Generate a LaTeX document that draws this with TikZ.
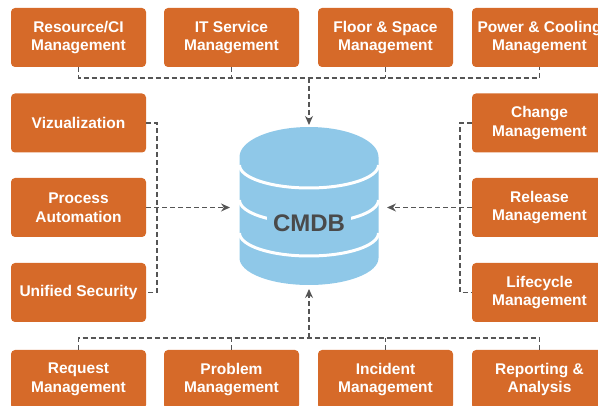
\documentclass[tikz,border=0pt]{standalone}
\usepackage{fontspec}
\setmainfont{Liberation Sans}
\usetikzlibrary{arrows.meta}
\definecolor{boxor}{HTML}{D66A29}
\definecolor{dbblue}{HTML}{8FC8E8}
\definecolor{lncol}{HTML}{555555}
\definecolor{dbtext}{HTML}{4A4A4A}
\begin{document}
\begin{tikzpicture}[x=1pt,y=-1pt,
  mbox/.style={fill=boxor, rounded corners=4pt, minimum width=135pt, minimum height=59pt,
    text=white, font=\bfseries\fontsize{15.5}{18.5}\selectfont, align=center, inner sep=0pt},
  link/.style={draw=lncol, dash pattern=on 5pt off 3pt, line width=1.3pt},
  arr/.style={link, -{Stealth[length=9pt,width=8pt]}},
  band/.style={draw=white, line width=3pt}]
\useasboundingbox (0,0) rectangle (598,406);

% top row
\node[mbox] (t1) at (78.5,37.5) {Resource/CI\\Management};
\node[mbox] (t2) at (231.5,37.5) {IT Service\\Management};
\node[mbox] (t3) at (385.5,37.5) {Floor \& Space\\Management};
\node[mbox] (t4) at (539.5,37.5) {Power \& Cooling\\Management};
% left column
\node[mbox] (l1) at (78.5,123) {Vizualization};
\node[mbox] (l2) at (78.5,207.5) {Process\\Automation};
\node[mbox] (l3) at (78.5,292.5) {Unified Security};
% right column
\node[mbox] (r1) at (539.5,123) {Change\\Management};
\node[mbox] (r2) at (539.5,207.5) {Release\\Management};
\node[mbox] (r3) at (539.5,292.5) {Lifecycle\\Management};
% bottom row
\node[mbox] (b1) at (78.5,379.5) {Request\\Management};
\node[mbox] (b2) at (231.5,379.5) {Problem\\Management};
\node[mbox] (b3) at (385.5,379.5) {Incident\\Management};
\node[mbox] (b4) at (539.5,379.5) {Reporting \&\\Analysis};

% database cylinder
\fill[dbblue] (239.5,157) -- (239.5,258)
  arc[start angle=180,end angle=360,x radius=69.5pt,y radius=27pt]
  -- (378.5,157)
  arc[start angle=0,end angle=180,x radius=69.5pt,y radius=30pt] -- cycle;
\draw[band] (239.5,165) arc[start angle=180,end angle=360,x radius=69.5pt,y radius=23pt];
\draw[band] (239.5,200) arc[start angle=180,end angle=360,x radius=69.5pt,y radius=23pt];
\draw[band] (239.5,233) arc[start angle=180,end angle=360,x radius=69.5pt,y radius=23pt];
\node[fill=dbblue, inner xsep=6pt, inner ysep=1pt, text=dbtext,
  font=\bfseries\fontsize{24}{28}\selectfont] (db) at (309,223.5) {CMDB};

\coordinate (dbtop) at (309,125);
\coordinate (dbbot) at (309,289);
\coordinate (dbleft) at (230,207.5);
\coordinate (dbright) at (387,207.5);
\coordinate (tj) at (309,78);
\coordinate (bj) at (309,338);
\coordinate (lj) at (157,207.5);
\coordinate (rj) at (460,207.5);

% connectors
\draw[link] (t1.south) |- (tj) -| (t4.south);
\draw[link] (t2.south) -- (t2.south |- tj);
\draw[link] (t3.south) -- (t3.south |- tj);
\draw[arr] (tj) -- (dbtop);

\draw[link] (b1.north) |- (bj) -| (b4.north);
\draw[link] (b2.north) -- (b2.north |- bj);
\draw[link] (b3.north) -- (b3.north |- bj);
\draw[arr] (bj) -- (dbbot);

\draw[link] (l1.east) -| (lj) |- (l3.east);
\draw[arr] (l2.east) -- (dbleft);

\draw[link] (r1.west) -| (rj) |- (r3.west);
\draw[arr] (r2.west) -- (dbright);
\end{tikzpicture}
\end{document}
